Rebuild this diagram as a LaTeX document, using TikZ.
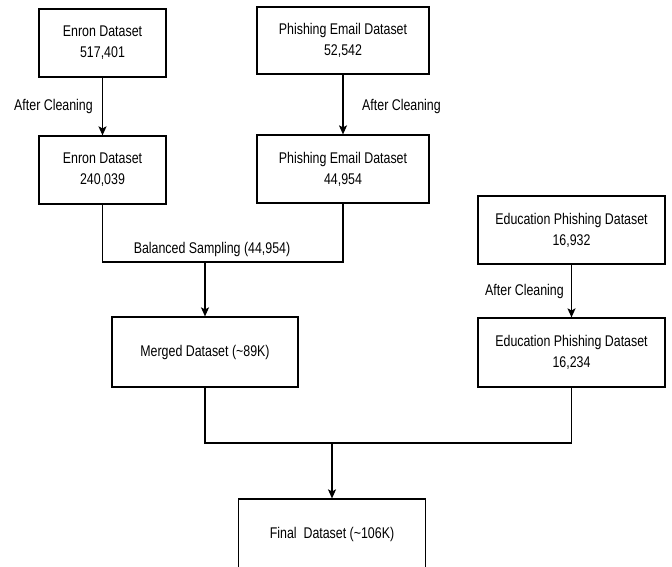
\documentclass[tikz,border=0pt]{standalone}
\usepackage{fontspec}
\setmainfont{Liberation Sans}[FakeStretch=0.8]
\usetikzlibrary{arrows.meta}
\begin{document}
\begin{tikzpicture}[x=1pt,y=-1pt,
  every node/.style={font=\fontsize{15.5}{21}\selectfont},
  box/.style={draw, line width=1.2pt, align=center, minimum height=68, inner sep=0pt},
  lbl/.style={inner sep=0pt},
  conn/.style={line width=1.2pt},
  arr/.style={line width=1.2pt, -{Stealth[length=9pt,width=8pt,inset=2pt]}}]
\useasboundingbox (0,0) rectangle (672,567);
\clip (0,0) rectangle (672,567);
\node[box, minimum width=127] (enron1) at (102.5,43) {Enron Dataset\\517,401};
\node[box, minimum width=127] (enron2) at (102.5,170) {Enron Dataset\\240,039};
\node[box, minimum width=172, minimum height=67] (phish1) at (343,40.5) {Phishing Email Dataset\\52,542};
\node[box, minimum width=172] (phish2) at (343,169) {Phishing Email Dataset\\44,954};
\node[box, minimum width=186, minimum height=70] (merged) at (205,352) {Merged Dataset (\textasciitilde89K)};
\node[box, minimum width=187] (edu1) at (571.5,230) {Education Phishing Dataset\\16,932};
\node[box, minimum width=187, minimum height=69] (edu2) at (571.5,352.5) {Education Phishing Dataset\\16,234};
\node[box, minimum width=187, minimum height=70] (final) at (332,534) {Final\ \ Dataset (\textasciitilde106K)};
\node[lbl, anchor=east] (l1) at (93,106) {After Cleaning};
\node[lbl, anchor=west] (l2) at (362,106) {After Cleaning};
\node[lbl] (l3) at (212,249) {Balanced Sampling (44,954)};
\node[lbl, anchor=east] (l4) at (564,291) {After Cleaning};
\coordinate (j1) at (205,262);
\coordinate (j2) at (332,443);
\draw[arr] (enron1) -- (enron2);
\draw[arr] (phish1) -- (phish2);
\draw[arr] (edu1) -- (edu2);
\draw[conn] (enron2.south) |- (j1) -| (phish2.south);
\draw[arr] (j1) -- (merged.north);
\draw[conn] (merged.south) |- (j2) -| (edu2.south);
\draw[arr] (j2) -- (final.north);
\end{tikzpicture}
\end{document}
